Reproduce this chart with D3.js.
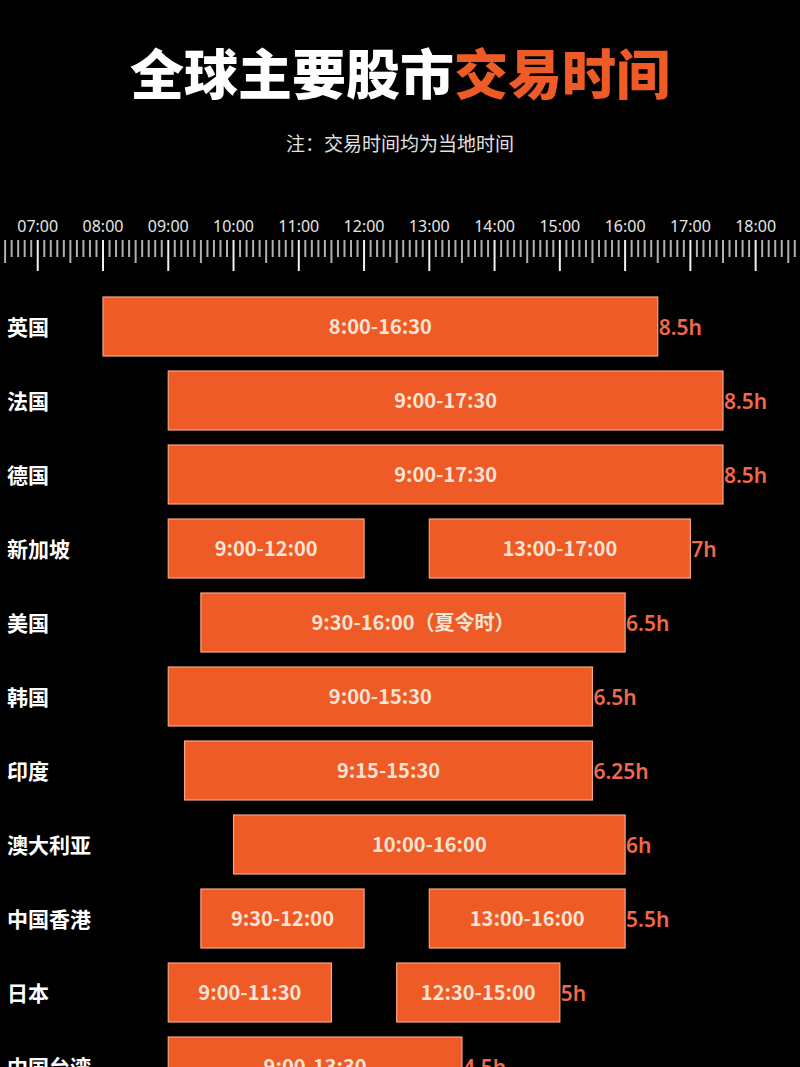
<!DOCTYPE html>
<html>
<head>
<meta charset="utf-8">
<script src="https://cdn.jsdelivr.net/npm/d3@7"></script>
<style>
  html, body { margin: 0; padding: 0; background: #000; }
  svg { display: block; }
</style>
</head>
<body>
<svg id="base" width="800" height="1067"></svg>
<script>
const markets = ["英国", "法国", "德国", "新加坡", "美国", "韩国", "印度", "澳大利亚", "中国香港", "日本", "中国台湾"];
// trading sessions per market, in decimal hours of local time
const sessions = [
    [[8, 16.5]],
    [[9, 17.5]],
    [[9, 17.5]],
    [[9, 12], [13, 17]],
    [[9.5, 16]],
    [[9, 15.5]],
    [[9.25, 15.5]],
    [[10, 16]],
    [[9.5, 12], [13, 16]],
    [[9, 11.5], [12.5, 15]],
    [[9, 13.5]]
];
const sessionLabels = [
    ["8:00-16:30"],
    ["9:00-17:30"],
    ["9:00-17:30"],
    ["9:00-12:00", "13:00-17:00"],
    ["9:30-16:00（夏令时）"],
    ["9:00-15:30"],
    ["9:15-15:30"],
    ["10:00-16:00"],
    ["9:30-12:00", "13:00-16:00"],
    ["9:00-11:30", "12:30-15:00"],
    ["9:00-13:30"]
];
const totals = ["8.5h", "8.5h", "8.5h", "7h", "6.5h", "6.5h", "6.25h", "6h", "5.5h", "5h", "4.5h"];
const hourTicks = [7, 8, 9, 10, 11, 12, 13, 14, 15, 16, 17, 18];

const orange = "#ef5b26";
const base = d3.select("#base");

// title
const title = base.append("text")
    .attr("x", 400)
    .attr("y", 95)
    .attr("text-anchor", "middle")
    .attr("font-family", "'Noto Sans CJK SC', sans-serif")
    .attr("font-weight", 900)
    .attr("font-size", 54);
title.append("tspan").attr("fill", "#fff").text("全球主要股市");
title.append("tspan").attr("fill", orange).text("交易时间");

base.append("text")
    .attr("x", 400)
    .attr("y", 151)
    .attr("text-anchor", "middle")
    .attr("font-family", "'Noto Sans CJK SC', sans-serif")
    .attr("font-size", 19)
    .attr("fill", "#e0e0e0")
    .text("注：交易时间均为当地时间");

// time scale
const x = d3.scaleLinear().domain([8, 17.5]).range([103, 723]);

// ruler
const ruler = base.append("g");
const minor = d3.range(Math.ceil(x.invert(0) * 10), Math.floor(x.invert(800) * 10) + 1);
ruler.selectAll("line")
    .data(minor)
    .enter()
    .append("line")
    .attr("x1", (d) => x(d / 10))
    .attr("x2", (d) => x(d / 10))
    .attr("y1", 240)
    .attr("y2", (d) => (d % 10 === 0 ? 271 : d % 5 === 0 ? 263 : 257))
    .attr("stroke", (d) => (d % 10 === 0 ? "#f0f0f0" : "#b0b0b0"))
    .attr("stroke-width", 2);

ruler.selectAll("text")
    .data(hourTicks)
    .enter()
    .append("text")
    .attr("x", (d) => x(d))
    .attr("y", 232)
    .attr("text-anchor", "middle")
    .attr("font-family", "'Noto Sans', sans-serif")
    .attr("font-size", 16)
    .attr("fill", "#e6e6e6")
    .text((d) => d3.format("02")(d) + ":00");

// rows: 74px apart, bars 59px tall
const rowStep = 74;
const barH = 59;
const yTop = (i) => 297 + i * rowStep;

const rows = base.selectAll("g.row")
    .data(markets)
    .enter()
    .append("g")
    .attr("class", "row");

rows.append("text")
    .attr("x", 7)
    .attr("y", (d, i) => yTop(i) + barH / 2 + 8)
    .attr("font-family", "'Noto Sans CJK SC', sans-serif")
    .attr("font-weight", 700)
    .attr("font-size", 21)
    .attr("fill", "#fff")
    .text((d) => d);

rows.each(function (d, i) {
    const g = d3.select(this);
    const segs = sessions[i].map((s, j) => ({ s: s, label: sessionLabels[i][j] }));
    g.selectAll("rect")
        .data(segs)
        .enter()
        .append("rect")
        .attr("x", (e) => x(e.s[0]))
        .attr("y", yTop(i))
        .attr("width", (e) => x(e.s[1]) - x(e.s[0]))
        .attr("height", barH)
        .attr("fill", orange)
        .attr("stroke", "#f6a585")
        .attr("stroke-width", 1.2);
    g.selectAll("text.seg")
        .data(segs)
        .enter()
        .append("text")
        .attr("class", "seg")
        .attr("x", (e) => (x(e.s[0]) + x(e.s[1])) / 2)
        .attr("y", yTop(i) + barH / 2 + 7)
        .attr("text-anchor", "middle")
        .attr("font-family", "'Noto Sans CJK SC', sans-serif")
        .attr("font-weight", 700)
        .attr("font-size", 20)
        .attr("fill", "#f8e4d6")
        .text((e) => e.label);
    const end = sessions[i][sessions[i].length - 1][1];
    g.append("text")
        .attr("x", x(end) + 1)
        .attr("y", yTop(i) + barH / 2 + 8)
        .attr("font-family", "'Noto Sans', sans-serif")
        .attr("font-weight", 600)
        .attr("font-size", 21)
        .attr("fill", "#f2684a")
        .text(totals[i]);
});
</script>
</body>
</html>
